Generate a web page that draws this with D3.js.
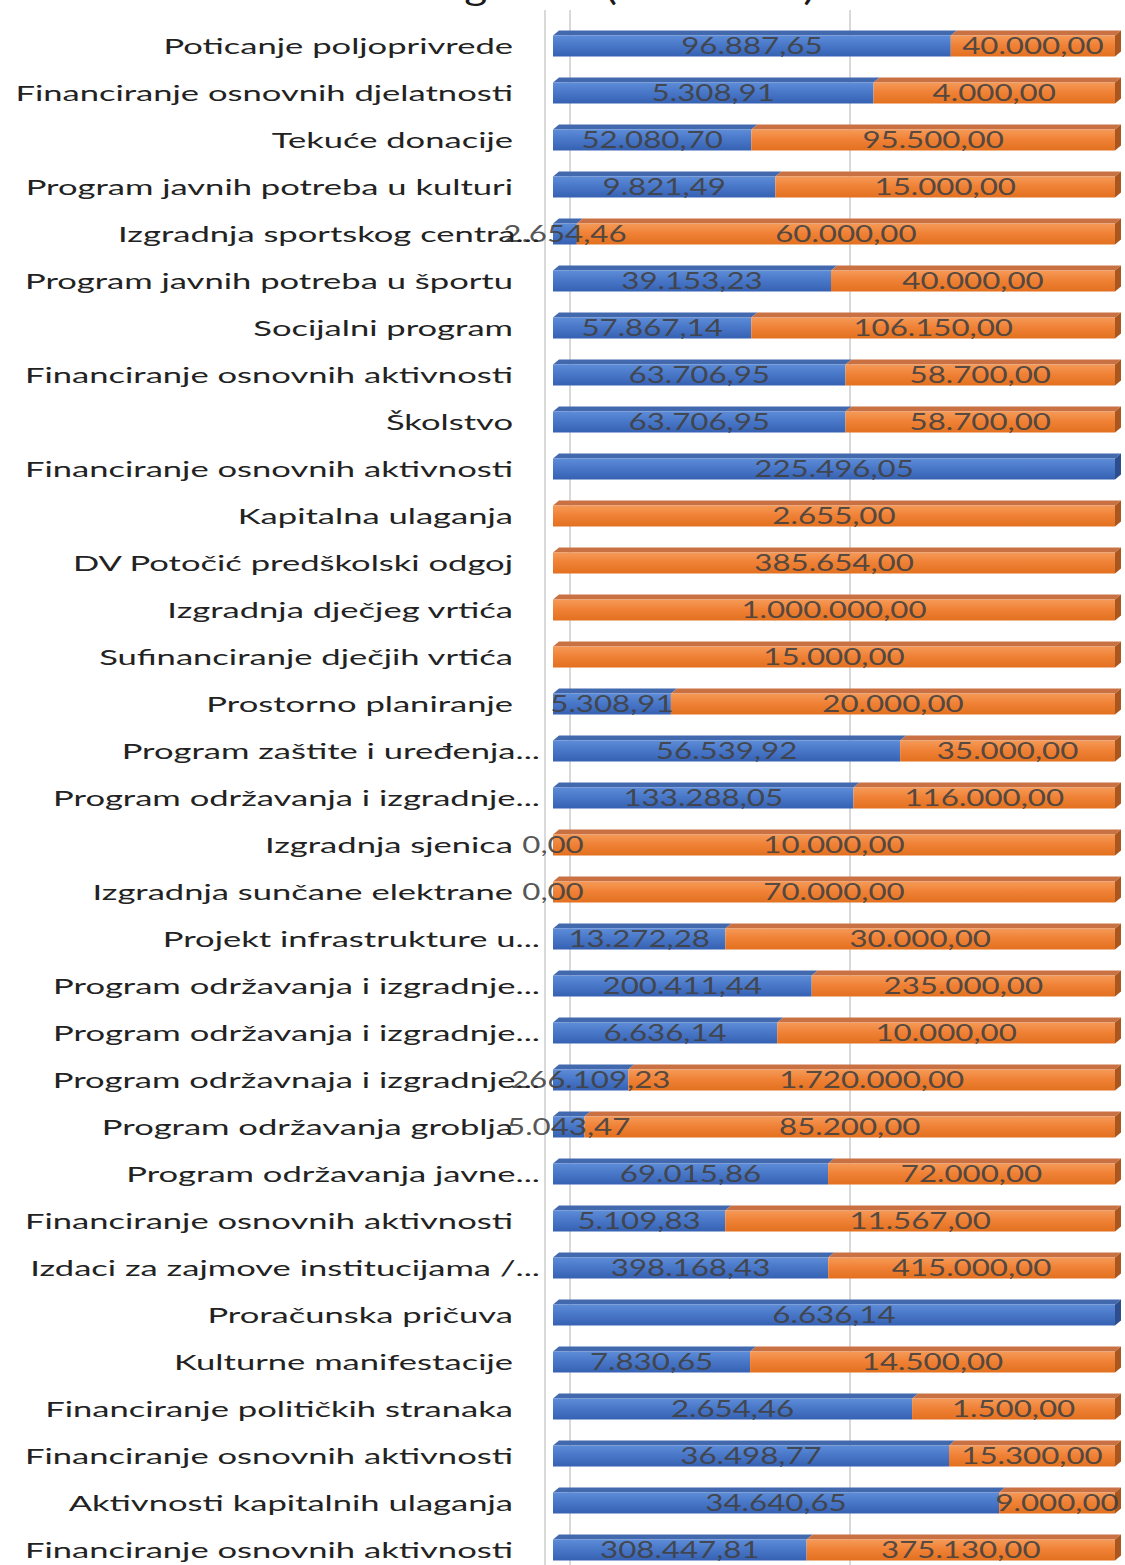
<!DOCTYPE html>
<html>
<head>
<meta charset="utf-8">
<script src="https://cdn.jsdelivr.net/npm/d3@7"></script>
<style>
  html, body { margin: 0; padding: 0; background: #ffffff; }
  svg { display: block; }
</style>
</head>
<body>
<div id="chart"></div>
<script>
// ---------- DATA ----------
const titleText = "Rashodi 2019. i 2020. godina (u kunama)";

const categories = [
  "Poticanje poljoprivrede",
  "Financiranje osnovnih djelatnosti",
  "Tekuće donacije",
  "Program javnih potreba u kulturi",
  "Izgradnja sportskog centra...",
  "Program javnih potreba u športu",
  "Socijalni program",
  "Financiranje osnovnih aktivnosti",
  "Školstvo",
  "Financiranje osnovnih aktivnosti",
  "Kapitalna ulaganja",
  "DV Potočić predškolski odgoj",
  "Izgradnja dječjeg vrtića",
  "Sufinanciranje dječjih vrtića",
  "Prostorno planiranje",
  "Program zaštite i uređenja...",
  "Program održavanja i izgradnje...",
  "Izgradnja sjenica",
  "Izgradnja sunčane elektrane",
  "Projekt infrastrukture u...",
  "Program održavanja i izgradnje...",
  "Program održavanja i izgradnje...",
  "Program održavnaja i izgradnje...",
  "Program održavanja groblja",
  "Program održavanja javne...",
  "Financiranje osnovnih aktivnosti",
  "Izdaci za zajmove institucijama /...",
  "Proračunska pričuva",
  "Kulturne manifestacije",
  "Financiranje političkih stranaka",
  "Financiranje osnovnih aktivnosti",
  "Aktivnosti kapitalnih ulaganja",
  "Financiranje osnovnih aktivnosti"
];

// blue series
const seriesBlue = [
  96887.65, 5308.91, 52080.70, 9821.49, 2654.46, 39153.23, 57867.14, 63706.95,
  63706.95, 225496.05, null, null, null, null, 5308.91, 56539.92, 133288.05,
  0, 0, 13272.28, 200411.44, 6636.14, 266109.23, 5043.47, 69015.86, 5109.83,
  398168.43, 6636.14, 7830.65, 2654.46, 36498.77, 34640.65, 308447.81
];

// orange series
const seriesOrange = [
  40000, 4000, 95500, 15000, 60000, 40000, 106150, 58700,
  58700, null, 2655, 385654, 1000000, 15000, 20000, 35000, 116000,
  10000, 70000, 30000, 235000, 10000, 1720000, 85200, 72000, 11567,
  415000, null, 14500, 1500, 15300, 9000, 375130
];

const gridTicks = [0, 0.5, 1];

// ---------- LAYOUT ----------
const W = 1125, H = 1565;
const svg = d3.select("#chart").append("svg")
  .attr("width", W).attr("height", H)
  .attr("font-family", "Lato, 'Open Sans', sans-serif");

const defs = svg.append("defs");
function vgrad(id, stops) {
  const g = defs.append("linearGradient").attr("id", id)
    .attr("x1", 0).attr("y1", 0).attr("x2", 0).attr("y2", 1);
  stops.forEach(s => g.append("stop").attr("offset", s[0]).attr("stop-color", s[1]));
}
vgrad("gBlue", [[0, "#5d8cd8"], [0.45, "#4a78c9"], [1, "#3661b3"]]);
vgrad("gOrange", [[0, "#f59a58"], [0.45, "#f08237"], [1, "#e2701f"]]);

const colors = {
  blue:   { front: "url(#gBlue)",   top: "#4268ad", side: "#2d4d8c" },
  orange: { front: "url(#gOrange)", top: "#c97142", side: "#a9561f" }
};

const x = d3.scaleLinear().domain([0, 1]).range([553, 1115]);
const xBack = d3.scaleLinear().domain([0, 1]).range([570, 1130]);
const y = d3.scalePoint().domain(d3.range(categories.length)).range([46, 1550]);
const barH = 21, dx = 6, dy = 5;

// title (mostly cut off at top, as in the reference)
svg.append("g").attr("transform", "translate(815,0) scale(1.3,1)")
  .append("text")
  .attr("text-anchor", "end")
  .attr("font-size", 34)
  .attr("fill", "#1a1a1a")
  .text(titleText);

// gridlines / walls
const grid = svg.append("g");
grid.append("line").attr("x1", 545).attr("x2", 545).attr("y1", 10).attr("y2", H)
  .attr("stroke", "#d9d9d9").attr("stroke-width", 2);
grid.selectAll("line.g").data(gridTicks).join("line").attr("class", "g")
  .attr("x1", d => xBack(d)).attr("x2", d => xBack(d))
  .attr("y1", 10).attr("y2", H)
  .attr("stroke", "#d9d9d9").attr("stroke-width", 2);

// stacked (100%) data
const rows = categories.map((c, i) => {
  const a = seriesBlue[i], b = seriesOrange[i];
  const total = (a || 0) + (b || 0);
  const segs = [];
  let acc = 0;
  if (a !== null) { segs.push({ key: "blue", v: a, x0: acc / total, x1: (acc + a) / total }); acc += a; }
  if (b !== null) { segs.push({ key: "orange", v: b, x0: acc / total, x1: (acc + b) / total }); acc += b; }
  return { i, segs };
});

const fmt = d3.formatLocale({ decimal: ",", thousands: ".", grouping: [3], currency: ["", ""] }).format(",.2f");

const bars = svg.append("g");
rows.forEach(r => {
  const cy = y(r.i), yt = cy - barH / 2, yb = cy + barH / 2;
  const g = bars.append("g");
  r.segs.forEach((s, k) => {
    const X0 = x(s.x0), X1 = x(s.x1);
    const c = colors[s.key];
    if (X1 > X0) {
      g.append("polygon")
        .attr("points", [[X0, yt], [X0 + dx, yt - dy], [X1 + dx, yt - dy], [X1, yt]].map(p => p.join(",")).join(" "))
        .attr("fill", c.top);
      g.append("rect").attr("x", X0).attr("y", yt).attr("width", X1 - X0).attr("height", barH)
        .attr("fill", c.front);
    }
    if (k === r.segs.length - 1) {
      g.append("polygon")
        .attr("points", [[X1, yt], [X1 + dx, yt - dy], [X1 + dx, yb - dy], [X1, yb]].map(p => p.join(",")).join(" "))
        .attr("fill", c.side);
    }
  });
});

// value labels
const valScale = 1.36;
const vals = svg.append("g").attr("font-size", 23).attr("fill", "#404040").attr("fill-opacity", 0.9);
rows.forEach(r => {
  const cy = y(r.i);
  r.segs.forEach(s => {
    const cx = (x(s.x0) + x(s.x1)) / 2;
    vals.append("g").attr("transform", `translate(${cx},${cy}) scale(${valScale},1)`)
      .append("text").attr("text-anchor", "middle").attr("dy", "0.36em")
      .text(fmt(s.v));
  });
});

// category labels
const catG = svg.append("g").attr("font-size", 22).attr("fill", "#222222");
const catTexts = categories.map((c, i) => {
  const endX = c.endsWith("...") ? 540 : 513;
  const gg = catG.append("g").attr("transform", `translate(${endX},${y(i)})`);
  const t = gg.append("text").attr("text-anchor", "end").attr("dy", "0.36em").text(c);
  return { gg, t, endX, i };
});
// uniform horizontal stretch so that the reference label fits its measured width
const refW = catTexts[9].t.node().getComputedTextLength();
const sx = 488 / refW;
catTexts.forEach(o => o.gg.attr("transform", `translate(${o.endX},${y(o.i)}) scale(${sx},1)`));
</script>
</body>
</html>
